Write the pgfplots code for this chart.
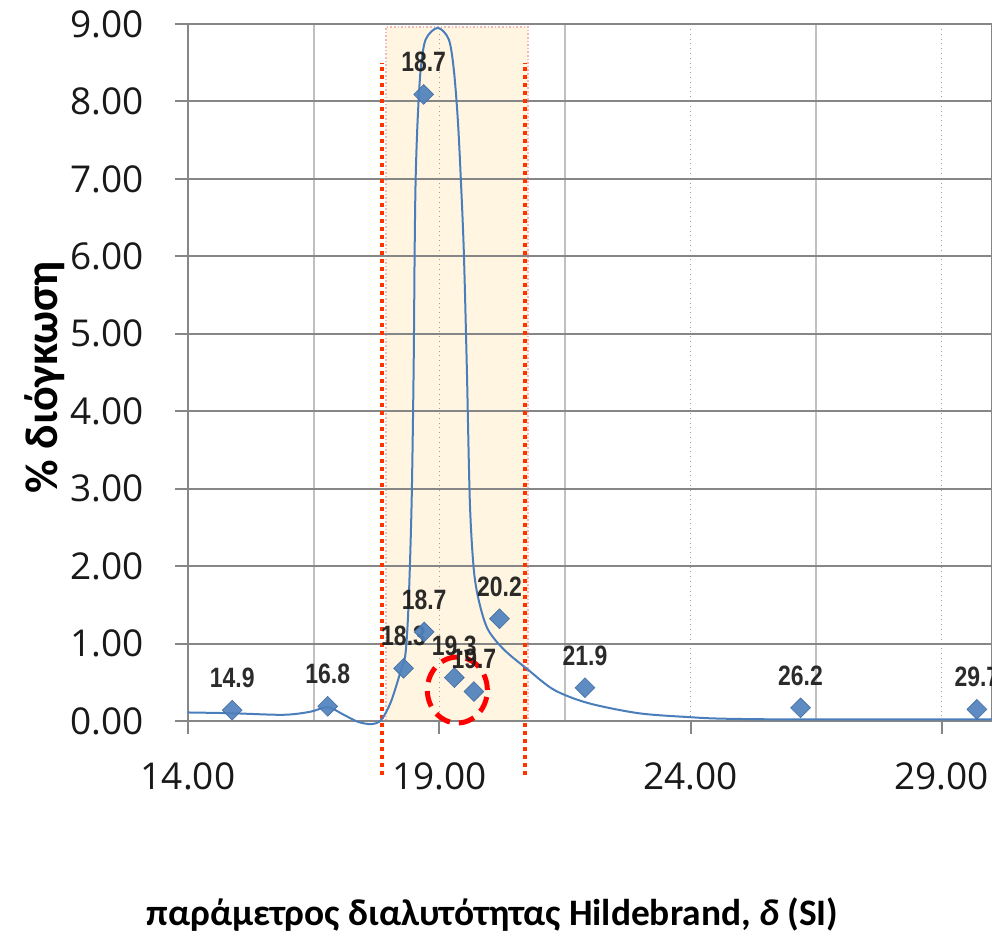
\documentclass[border=0pt]{standalone}
\usepackage{fontspec}
\setmainfont{Open Sans}
\newfontfamily\calfont{Carlito}
\newfontfamily\narrowfont[FakeStretch=0.82]{Liberation Sans}
\usepackage{pgfplots}
\pgfplotsset{compat=1.18}
\definecolor{gridgray}{HTML}{868686}
\definecolor{mingray}{HTML}{C0C0C0}
\definecolor{cream}{HTML}{FFF5E1}
\definecolor{pinkb}{HTML}{F4B6B6}
\definecolor{reddot}{HTML}{FF3300}
\definecolor{ellred}{HTML}{FF0000}
\definecolor{mkblue}{HTML}{4F81BD}
\definecolor{crvblue}{HTML}{4A7EBB}
\begin{document}
\begin{tikzpicture}
\begin{axis}[
  set layers,
  at={(0,0)}, anchor=south west,
  scale only axis,
  width=402pt, height=348.5pt,
  xmin=14, xmax=30, ymin=0, ymax=9,
  clip=false,
  xtick={14,19,24,29},
  minor xtick={16.5,21.5,26.5},
  ytick={0,1,2,3,4,5,6,7,8,9},
  xmajorgrids, xminorgrids, ymajorgrids,
  major x grid style={gridgray!80, dotted, line width=0.7pt},
  minor x grid style={mingray, line width=1pt},
  major y grid style={gridgray, line width=1pt},
  axis line style={gridgray, line width=1pt},
  tick style={gridgray, line width=1pt},
  major tick length=6.5pt, minor tick length=0pt,
  tick align=outside,
  xtick pos=bottom, ytick pos=left,
  /pgf/number format/.cd, fixed, fixed zerofill, precision=2, assume math mode=true,
  /pgfplots/.cd,
  ticklabel style={font=\fontsize{18.5}{20}\selectfont, text=black!90},
  yticklabel style={xshift=-12pt},
  xticklabel style={yshift=-11pt},
  every axis y label/.style={at={(axis description cs:-0.178,0.493)}, rotate=90, anchor=center},
  every axis x label/.style={at={(axis description cs:0.379,-0.278)}, anchor=center},
  ylabel={\calfont\bfseries\fontsize{23}{26}\selectfont \% διόγκωση},
  xlabel={\calfont\bfseries\fontsize{18.7}{21}\selectfont παράμετρος διαλυτότητας Hildebrand, \textit{δ} (SI)},
]
% shaded band
\addplot[on layer=axis background, fill=cream, draw=pinkb, densely dotted, line width=0.8pt]
  coordinates {(17.94,0)(17.94,8.96)(20.77,8.96)(20.77,0)(17.94,0)};
% red dotted limits
\addplot[reddot, line width=2pt, dash pattern=on 2pt off 2pt] coordinates {(17.86,-0.70)(17.86,8.50)};
\addplot[reddot, line width=2pt, dash pattern=on 2pt off 2pt] coordinates {(20.71,-0.70)(20.71,8.50)};
% smooth curve
\addplot[crvblue, line width=1pt, smooth, tension=0.5] coordinates {
(14.00,0.11)(14.88,0.10)(15.90,0.08)(16.44,0.12)(16.78,0.18)(17.10,0.08)(17.38,-0.01)(17.64,-0.04)
(17.84,0.01)(18.04,0.25)(18.24,0.66)(18.33,0.88)(18.39,1.52)(18.45,2.81)(18.49,4.53)(18.51,6.04)
(18.53,6.99)(18.57,7.76)(18.63,8.41)(18.73,8.80)(18.97,8.95)(19.19,8.80)(19.29,8.41)(19.37,7.76)
(19.43,6.99)(19.49,6.04)(19.55,4.53)(19.61,2.81)(19.69,1.94)(19.80,1.52)(19.97,1.18)(20.29,0.92)
(20.77,0.66)(21.29,0.40)(21.97,0.23)(22.97,0.10)(23.97,0.05)(24.63,0.03)(26.0,0.02)(28.0,0.02)(30.0,0.02)};
% data points
\addplot[only marks, mark=square*, mark size=3.5pt,
  mark options={rotate=45, fill=mkblue, draw=mkblue!85!black, line width=0.3pt, fill opacity=0.92},
  point meta=x,
  nodes near coords={\pgfmathprintnumber[fixed,precision=1]{\pgfplotspointmeta}},
  every node near coord/.append style={font=\narrowfont\bfseries\fontsize{14}{16}\selectfont, text=black!90, anchor=south, inner sep=0pt, yshift=11pt}]
  coordinates {
(14.88,0.14)(16.78,0.19)(18.29,0.68)(18.70,1.15)(18.69,8.09)(19.30,0.56)(19.69,0.38)(20.20,1.32)(21.90,0.43)(26.19,0.17)(29.70,0.15)};
% annotation ellipse
\draw[ellred, line width=2.5pt, dash pattern=on 8pt off 4.5pt] (axis cs:19.36,0.40) ellipse [x radius=15pt, y radius=16.5pt];
\end{axis}
\pgfresetboundingbox
\path[use as bounding box] (-94pt,-107.5pt) rectangle (402pt,360.5pt);
\end{tikzpicture}
\end{document}
